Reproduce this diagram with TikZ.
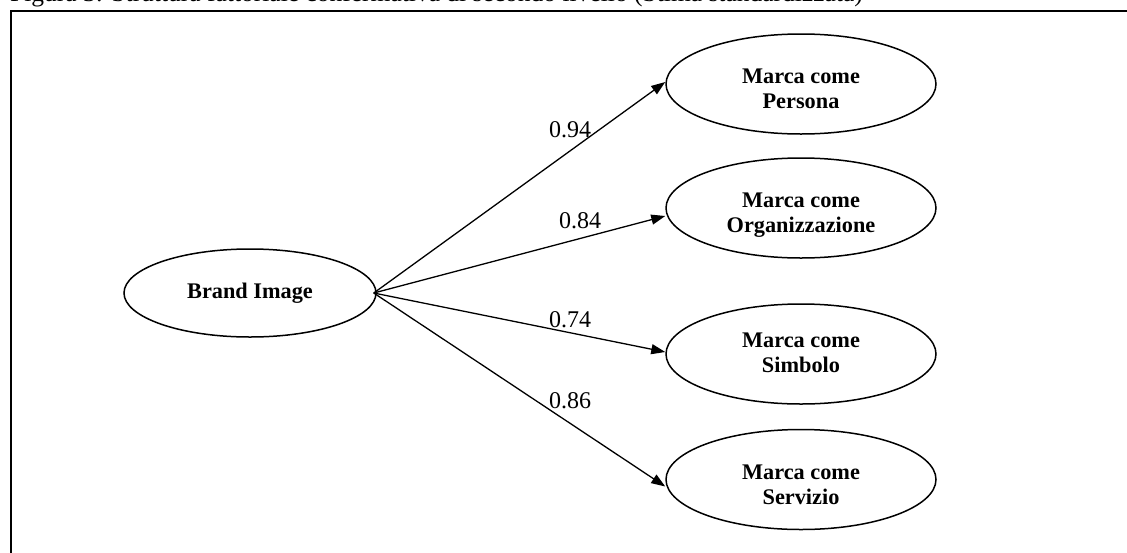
\documentclass[tikz,border=0pt]{standalone}
\usepackage{fontspec}
\setmainfont{Liberation Serif}
\usetikzlibrary{shapes.geometric,arrows.meta}
\begin{document}
\begin{tikzpicture}[x=1pt,y=-1pt,
  ell/.style={draw, ellipse, line width=1.5pt, inner sep=0pt},
  bigell/.style={ell, minimum width=270pt, minimum height=100pt},
  etext/.style={align=center, font=\fontsize{22.3}{25}\selectfont\bfseries, inner sep=0pt},
  coef/.style={font=\fontsize{24}{28}\selectfont, anchor=base, inner sep=0pt},
  link/.style={line width=1.3pt, -{Triangle[length=14pt,width=10pt]}},
  frameline/.style={line width=2pt}]
\begin{scope}
  \clip (0,0) rectangle (1127,552);
  \node[anchor=base west, inner sep=0pt, font=\fontsize{25.5}{30}\selectfont] (cap) at (10,1)
    {Figura 3: Struttura fattoriale confermativa di secondo livello (Stima standardizzata)};
  \draw[frameline] (10.5,560) -- (10.5,10.5) -- (1140,10.5);
\end{scope}

\node[ell, minimum width=252pt, minimum height=88pt,
      font=\fontsize{22.3}{25}\selectfont\bfseries] (bi) at (250,293) {Brand Image};

\node[bigell] (p) at (801,84) {};
\node[bigell] (o) at (801,208) {};
\node[bigell] (s) at (801,354) {};
\node[bigell] (v) at (801,479.5) {};

\node[etext] (pt) at (801,88.5) {Marca come\\Persona};
\node[etext] (ot) at (801,215.5) {Marca come\\Organizzazione};
\node[etext] (st) at (801,353) {Marca come\\Simbolo};
\node[etext] (vt) at (801,485) {Marca come\\Servizio};

\draw[link] ([xshift=-3pt]bi.east) -- ([yshift=2pt]p.west);
\draw[link] ([xshift=-3pt]bi.east) -- ([yshift=-8pt]o.west);
\draw[link] ([xshift=-3pt]bi.east) -- ([yshift=2pt]s.west);
\draw[link] ([xshift=-3pt]bi.east) -- ([yshift=-7pt]v.west);

\node[coef] (l1) at (570,137) {0.94};
\node[coef] (l2) at (580,228) {0.84};
\node[coef] (l3) at (570,327) {0.74};
\node[coef] (l4) at (570,408) {0.86};

\pgfresetboundingbox
\useasboundingbox (0,0) rectangle (1127,552);
\end{tikzpicture}
\end{document}
